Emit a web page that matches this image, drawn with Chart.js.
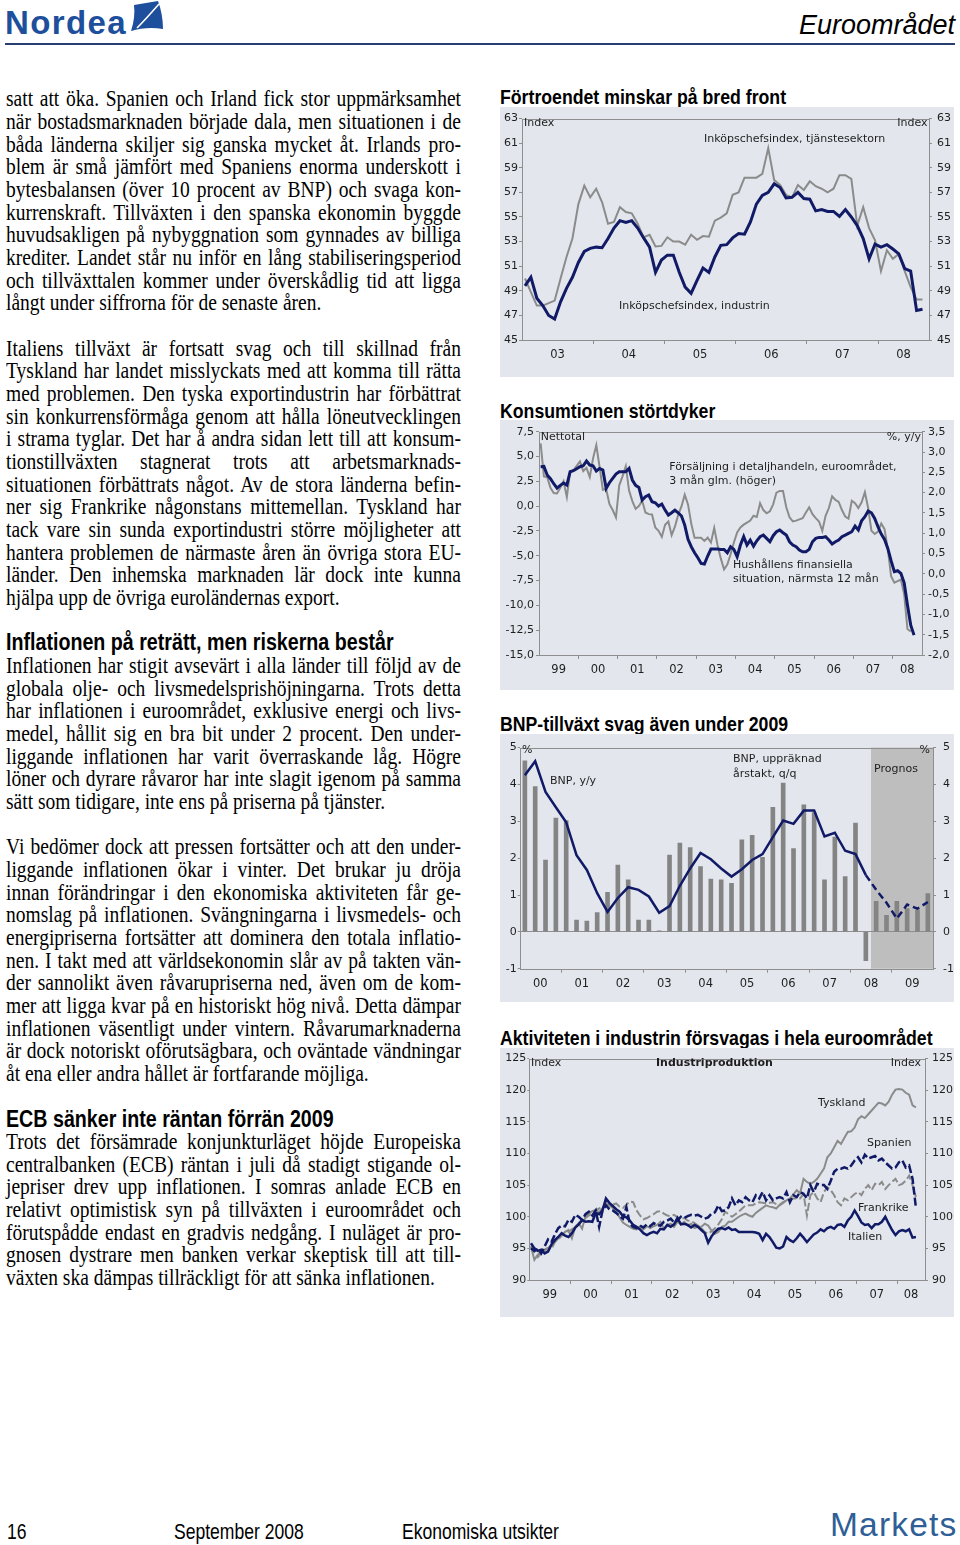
<!DOCTYPE html>
<html lang="sv"><head><meta charset="utf-8">
<title>Euroområdet</title>
<script src="https://cdn.jsdelivr.net/npm/chart.js@4.4.1/dist/chart.umd.min.js"></script>
<style>
html,body{margin:0;padding:0;background:#fff;}
#page{position:relative;width:960px;height:1545px;overflow:hidden;background:#fff;}
.txt{position:absolute;left:6px;width:560px;transform:scaleX(0.8125);transform-origin:0 0;font-family:"Liberation Serif","Times New Roman",serif;font-size:24px;line-height:22.67px;color:#000;}
.txt div{text-align:justify;text-align-last:justify;}
.txt div.e{text-align-last:left;}
.h{position:absolute;left:6px;transform:scaleX(0.8125);transform-origin:0 0;font-family:"Liberation Sans",Arial,sans-serif;font-weight:bold;font-size:24.2px;line-height:22.67px;white-space:nowrap;color:#000;}
.ct{position:absolute;left:500px;transform:scaleX(0.863);transform-origin:0 0;font-family:"Liberation Sans",Arial,sans-serif;font-weight:bold;font-size:20.5px;line-height:24px;white-space:nowrap;color:#000;}
.panel{position:absolute;left:500px;width:454px;background:#e3e7ed;}
.panel canvas{display:block;}
.foot{position:absolute;top:1520px;transform:scaleX(0.82);transform-origin:0 0;font-family:"Liberation Sans",Arial,sans-serif;font-size:21.4px;line-height:24px;white-space:nowrap;color:#000;}
</style></head>
<body><div id="page">

<svg style="position:absolute;left:0;top:0" width="960" height="50">
  <path d="M131,31 C134,22 135,13 134,5 L158,1 C161,9 163,19 163,29 C152,27 141,28 131,31 Z" fill="#1d4f9c"/>
  <path d="M137,28 C145,20 152,12 159,4" stroke="#fff" stroke-width="1.6" fill="none"/>
</svg>
<div style="position:absolute;left:5px;top:6px;font-family:'Liberation Sans',Arial,sans-serif;font-weight:bold;font-size:33px;line-height:33px;letter-spacing:1.4px;color:#1d4f9c;">Nordea</div>
<div style="position:absolute;right:5px;top:12px;font-family:'Liberation Sans',Arial,sans-serif;font-style:italic;font-size:27px;line-height:27px;color:#000;">Euroområdet</div>
<div style="position:absolute;left:5px;top:43px;width:950px;height:2px;background:#263f70;"></div>

<div class="txt" style="top:87.3px">
<div>satt att öka. Spanien och Irland fick stor uppmärksamhet</div>
<div>när bostadsmarknaden började dala, men situationen i de</div>
<div>båda länderna skiljer sig ganska mycket åt. Irlands pro-</div>
<div>blem är små jämfört med Spaniens enorma underskott i</div>
<div>bytesbalansen (över 10 procent av BNP) och svaga kon-</div>
<div>kurrenskraft. Tillväxten i den spanska ekonomin byggde</div>
<div>huvudsakligen på nybyggnation som gynnades av billiga</div>
<div>krediter. Landet står nu inför en lång stabiliseringsperiod</div>
<div>och tillväxttalen kommer under överskådlig tid att ligga</div>
<div class="e">långt under siffrorna för de senaste åren.</div>
</div>

<div class="txt" style="top:336.7px">
<div>Italiens tillväxt är fortsatt svag och till skillnad från</div>
<div>Tyskland har landet misslyckats med att komma till rätta</div>
<div>med problemen. Den tyska exportindustrin har förbättrat</div>
<div>sin konkurrensförmåga genom att hålla löneutvecklingen</div>
<div>i strama tyglar. Det har å andra sidan lett till att konsum-</div>
<div>tionstillväxten stagnerat trots att arbetsmarknads-</div>
<div>situationen förbättrats något. Av de stora länderna befin-</div>
<div>ner sig Frankrike någonstans mittemellan. Tyskland har</div>
<div>tack vare sin sunda exportindustri större möjligheter att</div>
<div>hantera problemen de närmaste åren än övriga stora EU-</div>
<div>länder. Den inhemska marknaden lär dock inte kunna</div>
<div class="e">hjälpa upp de övriga euroländernas export.</div>
</div>

<div class="h" style="top:631.4px">Inflationen på reträtt, men riskerna består</div>
<div class="txt" style="top:654.1px">
<div>Inflationen har stigit avsevärt i alla länder till följd av de</div>
<div>globala olje- och livsmedelsprishöjningarna. Trots detta</div>
<div>har inflationen i euroområdet, exklusive energi och livs-</div>
<div>medel, hållit sig en bra bit under 2 procent. Den under-</div>
<div>liggande inflationen har varit överraskande låg. Högre</div>
<div>löner och dyrare råvaror har inte slagit igenom på samma</div>
<div class="e">sätt som tidigare, inte ens på priserna på tjänster.</div>
</div>

<div class="txt" style="top:835.4px">
<div>Vi bedömer dock att pressen fortsätter och att den under-</div>
<div>liggande inflationen ökar i vinter. Det brukar ju dröja</div>
<div>innan förändringar i den ekonomiska aktiviteten får ge-</div>
<div>nomslag på inflationen. Svängningarna i livsmedels- och</div>
<div>energipriserna fortsätter att dominera den totala inflatio-</div>
<div>nen. I takt med att världsekonomin slår av på takten vän-</div>
<div>der sannolikt även råvarupriserna ned, även om de kom-</div>
<div>mer att ligga kvar på en historiskt hög nivå. Detta dämpar</div>
<div>inflationen väsentligt under vintern. Råvarumarknaderna</div>
<div>är dock notoriskt oförutsägbara, och oväntade vändningar</div>
<div class="e">åt ena eller andra hållet är fortfarande möjliga.</div>
</div>

<div class="h" style="top:1107.5px">ECB sänker inte räntan förrän 2009</div>
<div class="txt" style="top:1130.1px">
<div>Trots det försämrade konjunkturläget höjde Europeiska</div>
<div>centralbanken (ECB) räntan i juli då stadigt stigande ol-</div>
<div>jepriser drev upp inflationen. I somras anlade ECB en</div>
<div>relativt optimistisk syn på tillväxten i euroområdet och</div>
<div>förutspådde endast en gradvis nedgång. I nuläget är pro-</div>
<div>gnosen dystrare men banken verkar skeptisk till att till-</div>
<div class="e">växten ska dämpas tillräckligt för att sänka inflationen.</div>
</div>

<div class="ct" style="top:85.2px">Förtroendet minskar på bred front</div>
<div class="panel" style="top:107px;height:270px"><canvas id="c1" width="454" height="270"></canvas></div>

<div class="ct" style="top:399.2px">Konsumtionen störtdyker</div>
<div class="panel" style="top:420px;height:270px"><canvas id="c2" width="454" height="270"></canvas></div>

<div class="ct" style="top:711.9px">BNP-tillväxt svag även under 2009</div>
<div class="panel" style="top:734px;height:268px"><canvas id="c3" width="454" height="268"></canvas></div>

<div class="ct" style="top:1025.9px">Aktiviteten i industrin försvagas i hela euroområdet</div>
<div class="panel" style="top:1048px;height:269px"><canvas id="c4" width="454" height="269"></canvas></div>

<div class="foot" style="left:7px">16</div>
<div class="foot" style="left:174px">September 2008</div>
<div class="foot" style="left:402px">Ekonomiska utsikter</div>
<div style="position:absolute;left:830px;top:1507.6px;font-family:'Liberation Sans',Arial,sans-serif;font-size:33.5px;line-height:33.5px;letter-spacing:1.2px;color:#2f5f96;">Markets</div>

</div>
<script>
// ---------- Chart 1: Förtroendet minskar på bred front (monthly, Jan 2003 - Aug 2008)
const c1Years = ['03','04','05','06','07','08'];
const c1Industri = [
 49.4, 50.1, 48.4, 47.8, 47.0, 46.7, 48.1, 49.2, 50.1, 51.3, 52.2, 52.45,
 52.55, 52.5, 53.25, 54.1, 54.7, 54.55, 54.7, 54.1, 53.3, 52.55, 50.5, 51.5,
 51.9, 51.9, 50.5, 49.3, 48.8, 49.85, 50.85, 50.5, 51.75, 52.7, 52.75, 53.3,
 53.65, 53.6, 54.6, 56.05, 56.75, 57.0, 57.7, 57.4, 56.55, 56.6, 57.0, 56.5,
 56.45, 55.5, 55.6, 55.45, 55.45, 55.05, 55.6, 55.0, 54.3, 53.25, 51.6, 52.8,
 52.55, 52.75, 52.4, 52.0, 50.8, 50.6, 47.4, 47.5];
const c1Tjanster = [
 50.0, 48.9, 47.8, 47.8, 48.0, 48.2, 50.0, 51.75, 53.25, 56.05, 57.55, 56.6,
 57.3, 56.2, 54.45, 54.6, 55.8, 55.4, 55.3, 54.45, 53.35, 53.55, 52.6, 52.65,
 53.35, 53.0, 53.0, 52.75, 53.55, 53.15, 53.45, 53.4, 54.7, 54.95, 55.3, 56.8,
 57.0, 58.2, 58.2, 58.2, 58.5, 60.6, 58.0, 57.6, 56.8, 56.6, 57.6, 57.2,
 57.9, 57.5, 57.3, 57.0, 57.3, 58.4, 58.4, 58.1, 54.3, 55.8, 54.1, 53.1,
 50.6, 52.3, 51.6, 52.0, 50.6, 49.3, 48.3, 48.3];

// ---------- Chart 2: Konsumtionen störtdyker (monthly, from Jan 1999)
const c2Years = ['99','00','01','02','03','04','05','06','07','08'];
const c2Hushall = [ // Nettotal, vänster axel
 3.97, 4.0, 3.13, 2.76, 2.26, 1.82, 2.09, 2.33, 2.12, 3.47, 3.57, 3.77,
 3.97, 4.07, 4.54, 4.14, 4.07, 3.53, 3.8, 3.63, 1.79, 2.36, 2.8, 3.23,
 3.47, 3.47, 3.47, 3.8, 2.63, 2.09, 1.89, 0.61, 0.95, 1.12, 0.44, 0.34,
 0.0, 0.21, -0.4, -0.9, -0.67, -0.4, -0.67, -1.0, -1.91, -3.35, -4.09, -4.7,
 -5.2, -5.77, -5.84, -5.03, -4.33, -4.33, -4.33, -4.36, -4.36, -4.7, -4.09, -4.36,
 -5.1, -3.92, -3.08, -3.92, -3.42, -4.03, -3.49, -3.08, -2.92, -3.25, -3.59, -2.98,
 -2.58, -2.41, -2.68, -2.92, -3.59, -3.92, -4.09, -4.43, -4.6, -4.6, -4.36, -3.59,
 -3.25, -3.15, -3.15, -3.08, -3.42, -3.82, -3.59, -3.42, -3.08, -2.92, -2.75, -2.58,
 -2.01, -2.41, -1.47, -1.07, -0.5, -0.67, -1.24, -2.08, -2.82, -3.35, -4.26, -5.5,
 -6.61, -6.51, -6.78, -7.72, -9.97, -11.99, -13.0];
const c2Detalj = [ // %, y/y, höger axel
 3.21, 2.4, 2.38, 2.12, 1.99, 1.98, 2.12, 2.28, 1.89, 2.51, 2.55, 2.66,
 2.77, 2.53, 2.61, 2.38, 2.84, 3.17, 2.63, 2.07, 2.09, 1.72, 1.57, 1.39,
 2.18, 2.4, 2.65, 2.05, 1.79, 1.6, 1.67, 1.8, 1.51, 1.47, 1.46, 1.14,
 1.06, 0.91, 1.21, 1.29, 0.95, 1.16, 1.45, 1.66, 1.95, 1.71, 1.23, 0.89,
 0.89, 0.89, 0.81, 0.89, 0.77, 1.13, 0.71, 0.38, 0.11, 0.23, 0.48, 0.77,
 1.02, 1.14, 1.21, 1.26, 1.31, 1.43, 1.4, 1.74, 1.57, 1.49, 1.54, 1.71,
 2.0, 2.04, 2.04, 1.64, 1.39, 1.29, 1.31, 1.34, 1.37, 1.51, 1.64, 1.47,
 1.37, 1.29, 1.06, 1.43, 1.62, 1.91, 1.82, 1.77, 1.57, 1.41, 1.36, 1.8,
 1.74, 1.62, 1.76, 2.01, 1.62, 1.06, 0.98, 1.04, 1.24, 1.1, 0.61, -0.06,
 -0.22, -0.18, -0.14, -0.51, -1.36, -1.42];

// ---------- Chart 3: BNP (quarterly 2000 Q1 - 2009 Q4)
const c3Years = ['00','01','02','03','04','05','06','07','08','09'];
const c3Qoq = [
 4.64, 3.94, 1.95, 3.09,  3.02, 0.32, 0.29, 0.52,  1.07, 1.81, 1.41, 0.32,
 0.32, 0.03, 2.08, 2.41,  2.29, 1.77, 1.43, 1.41,  1.32, 2.5, 2.62, 2.02,
 3.38, 4.04, 2.26, 3.45,  3.24, 1.41, 2.57, 1.5,   2.95, -0.78, 0.83, 0.45,
 0.83, 0.63, 0.6, 1.04];
const c3Yoy = [
 4.25, 4.63, 3.8, 3.38,  2.97, 2.08, 1.68, 1.05,  0.54, 0.92, 1.21, 1.14,
 0.96, 0.52, 0.7, 1.25,  1.72, 2.14, 1.97, 1.72,  1.5, 1.7, 1.95, 2.11,
 2.57, 3.02, 2.93, 3.29,  3.29, 2.59, 2.69, 2.2,   2.11, 1.54, 1.14, 0.79,
 0.36, 0.74, 0.63, 0.81];
const c3PrognosStart = 2008.5;
const c3FirstForecastSegment = 33;

// ---------- Chart 4: Industriproduktion (monthly, Jan 1999 - Jun 2008)
const c4Years = ['99','00','01','02','03','04','05','06','07','08'];
const c4Tyskland = [
 95.2, 93.2, 94.0, 94.5, 94.6, 95.0, 95.6, 96.0, 96.6, 97.1, 97.6, 97.9,
 96.6, 98.4, 99.0, 98.1, 100.1, 100.5, 100.9, 101.1, 100.7, 101.4, 102.2, 101.8,
 101.4, 100.9, 99.9, 99.1, 98.7, 98.4, 98.1, 98.0, 98.5, 98.0, 98.5, 98.2,
 98.5, 98.7, 99.2, 98.1, 98.7, 98.9, 98.4, 99.2, 98.8, 99.2, 98.6, 98.9,
 98.2, 98.4, 98.4, 98.9, 98.6, 97.8, 97.3, 97.6, 98.4, 98.6, 99.2, 99.2,
 99.6, 100.0, 100.3, 100.5, 100.2, 100.0, 100.6, 101.0, 101.4, 101.8, 101.6, 101.5,
 101.3, 101.9, 102.3, 102.6, 102.9, 103.5, 104.2, 103.7, 106.0, 105.5, 105.2, 105.5,
 106.0, 106.8, 107.6, 109.4, 110.0, 111.0, 112.0, 111.5, 112.5, 113.4, 113.5, 114.1,
 115.4, 115.9, 115.6, 116.2, 116.8, 117.4, 118.0, 117.9, 117.6, 118.2, 119.3, 120.1,
 120.2, 120.1, 119.6, 119.3, 117.6, 117.3];
const c4Spanien = [
 95.0, 94.6, 94.9, 94.2, 95.3, 96.4, 96.0, 97.2, 98.2, 98.6, 98.5, 99.5,
 99.2, 100.3, 100.0, 99.5, 100.4, 100.8, 100.2, 101.0, 98.4, 101.0, 101.8, 101.2,
 101.0, 100.6, 100.1, 99.7, 101.5, 98.9, 98.4, 98.2, 98.6, 98.3, 98.8, 98.5,
 99.0, 98.7, 98.6, 99.2, 99.4, 99.7, 99.1, 99.4, 100.0, 99.8, 100.1, 100.3,
 100.2, 100.3, 100.0, 99.7, 99.9, 100.5, 100.7, 101.8, 100.9, 101.0, 101.5, 102.9,
 101.8, 102.6, 102.3, 103.1, 102.6, 102.3, 103.4, 102.9, 103.9, 102.6, 103.4, 102.6,
 102.9, 103.1, 102.9, 103.9, 102.3, 103.4, 103.1, 103.9, 103.6, 102.9, 105.0, 103.9,
 105.2, 105.0, 105.0, 104.4, 105.7, 107.1, 107.6, 107.6, 107.8, 107.6, 108.1, 108.9,
 109.4, 108.6, 109.8, 109.2, 109.4, 109.6, 108.9, 109.2, 108.6, 108.1, 107.6, 107.8,
 108.6, 108.9, 107.8, 108.1, 106.0, 101.4];
const c4Frankrike = [
 95.4, 94.3, 93.6, 94.2, 94.8, 95.1, 94.9, 96.0, 96.4, 97.0, 97.3, 97.6,
 98.0, 98.4, 98.9, 99.3, 99.8, 100.2, 100.5, 101.0, 101.3, 101.5, 101.6, 102.0,
 101.9, 102.1, 101.6, 101.4, 101.9, 102.4, 102.3, 101.0, 100.2, 99.6, 99.8, 100.1,
 100.4, 100.8, 100.9, 100.5, 100.2, 100.1, 100.3, 99.9, 99.7, 99.8, 99.4, 99.3,
 99.0, 98.6, 98.2, 97.6, 97.3, 97.7, 98.2, 98.8, 99.6, 100.8, 100.4, 100.0,
 100.4, 100.8, 101.3, 101.8, 101.8, 101.8, 102.1, 102.3, 102.2, 102.1, 102.2, 102.3,
 102.0, 101.8, 102.2, 102.6, 102.7, 102.9, 102.9, 102.9, 103.6, 100.2, 103.4, 103.9,
 102.9, 102.3, 103.9, 104.7, 104.2, 103.4, 102.3, 101.8, 102.9, 102.6, 103.1, 103.6,
 103.9, 103.4, 104.4, 105.0, 104.2, 105.2, 105.0, 105.5, 104.4, 105.0, 105.5, 106.0,
 105.0, 105.2, 105.7, 106.5, 105.0, 103.1];
const c4Italien = [
 95.8, 95.0, 94.6, 94.8, 94.2, 94.5, 95.6, 96.3, 96.8, 97.4, 97.0, 96.8,
 97.4, 98.3, 98.8, 99.5, 99.2, 99.3, 99.2, 100.6, 100.4, 101.0, 102.9, 102.2,
 101.7, 101.2, 100.8, 100.1, 99.9, 99.4, 98.7, 98.4, 98.0, 97.4, 97.1, 97.4,
 97.6, 97.4, 98.1, 98.0, 98.7, 98.4, 98.8, 99.8, 98.8, 98.9, 98.7, 98.3,
 98.7, 98.4, 97.9, 97.4, 95.9, 96.9, 97.6, 98.1, 98.2, 98.0, 98.3, 97.9,
 98.0, 97.6, 97.6, 97.6, 97.6, 97.6, 97.5, 97.3, 96.3, 97.3, 96.8, 96.0,
 95.1, 95.0, 95.3, 96.8, 96.3, 96.0, 96.6, 97.3, 96.7, 96.0, 96.6, 97.2,
 97.5, 98.0, 97.7, 98.2, 98.4, 98.1, 98.7, 98.8, 98.4, 99.4, 100.0, 101.0,
 100.1, 99.1, 98.7, 98.8, 98.2, 98.8, 98.8, 99.2, 100.0, 98.9, 97.9, 97.1,
 97.7, 97.9, 97.7, 98.0, 96.7, 96.8];

// ---------- shared styling
const NAVY = '#111a66';
const GRAY = '#8b8b8b';
const AXC = '#8e8e8e';
const TXT = '#1e1e1e';
const FONT = "'DejaVu Sans', Verdana, sans-serif";
const NONE = 'rgba(0,0,0,0)';

function pts(arr, start, per) {
  return arr.map((v, i) => ({ x: start + (i + 0.5) / per, y: v }));
}
function comma(v) { return Number(v).toFixed(1).replace('.', ','); }
function plain(v) { return String(v); }

function yearAxis(first, labels, min, max, h) {
  const lab = {};
  return {
    type: 'linear', position: 'bottom', min: min, max: max, offset: false,
    afterBuildTicks(scale) {
      const t = [];
      labels.forEach((l, i) => {
        const y0 = first + i;
        if (y0 > min && y0 < max) t.push({ value: y0 });
        const a = Math.max(y0, min), b = Math.min(y0 + 1, max);
        const mid = (a + b) / 2;
        lab[mid] = l;
        t.push({ value: mid });
      });
      t.sort((p, q) => p.value - q.value);
      scale.ticks = t;
    },
    afterFit(scale) { scale.height = h; },
    ticks: { autoSkip: false, maxRotation: 0, minRotation: 0, padding: 4.5, color: TXT,
             font: { family: FONT, size: 11.5 }, callback: v => (lab[v] !== undefined ? lab[v] : '') },
    grid: { drawOnChartArea: false, drawTicks: true, tickLength: 4, offset: false,
            tickColor: c => (c.tick && Number.isInteger(c.tick.value)) ? AXC : NONE, color: NONE },
    border: { display: false }
  };
}
function yAxis(pos, min, max, step, fmt, width, tl, pad, zeroLine) {
  return {
    type: 'linear', position: pos, min: min, max: max,
    ticks: { stepSize: step, autoSkip: false, color: TXT, font: { family: FONT, size: 11 }, padding: pad, callback: fmt },
    grid: { drawOnChartArea: !!zeroLine, drawTicks: true, tickLength: tl, tickColor: AXC,
            color: c => (zeroLine && c.tick && c.tick.value === 0) ? AXC : NONE },
    border: { display: false },
    afterFit(s) { s.width = width; }
  };
}
const frame = {
  id: 'frame',
  beforeDatasetsDraw(chart) {
    const a = chart.chartArea, ctx = chart.ctx;
    ctx.save();
    ctx.strokeStyle = AXC; ctx.lineWidth = 1;
    ctx.strokeRect(Math.round(a.left) + 0.5, Math.round(a.top) + 0.5,
                   Math.round(a.right - a.left), Math.round(a.bottom - a.top));
    ctx.restore();
  }
};
function notes(items) {
  return {
    id: 'notes',
    afterDraw(chart) {
      const ctx = chart.ctx;
      ctx.save();
      items.forEach(it => {
        ctx.font = (it.b ? 'bold ' : '') + '11px ' + FONT;
        ctx.fillStyle = TXT;
        ctx.textAlign = it.a || 'left';
        ctx.textBaseline = 'middle';
        ctx.fillText(it.t, it.x, it.y);
      });
      ctx.restore();
    }
  };
}
function baseOpts(padTop, scales) {
  return {
    responsive: false, animation: false, events: [],
    layout: { padding: { top: padTop, left: 0, right: 0, bottom: 0 } },
    plugins: { legend: { display: false }, tooltip: { enabled: false } },
    elements: { point: { radius: 0 }, line: { tension: 0 } },
    scales: scales
  };
}

// ---------- Chart 1
new Chart(document.getElementById('c1'), {
  type: 'line',
  data: { datasets: [
    { data: pts(c1Industri, 2003, 12), borderColor: NAVY, borderWidth: 3, order: 1 },
    { data: pts(c1Tjanster, 2003, 12), borderColor: GRAY, borderWidth: 2, order: 2 }
  ] },
  options: baseOpts(10.7, {
    x: yearAxis(2003, c1Years, 2003, 2008.716, 37),
    y: yAxis('left', 45, 63, 2, plain, 22, 3, 1),
    y2: yAxis('right', 45, 63, 2, plain, 25, 3, 5)
  }),
  plugins: [frame, notes([
    { t: 'Index', x: 24, y: 16 },
    { t: 'Index', x: 427.5, y: 16, a: 'right' },
    { t: 'Inköpschefsindex, tjänstesektorn', x: 204, y: 32 },
    { t: 'Inköpschefsindex, industrin', x: 119, y: 199 }
  ])]
});

// ---------- Chart 2
new Chart(document.getElementById('c2'), {
  type: 'line',
  data: { datasets: [
    { data: pts(c2Hushall, 1999, 12), borderColor: NAVY, borderWidth: 3, yAxisID: 'y', order: 1 },
    { data: pts(c2Detalj, 1999, 12), borderColor: GRAY, borderWidth: 2, yAxisID: 'y2', order: 2 }
  ] },
  options: baseOpts(11.7, {
    x: yearAxis(1999, c2Years, 1999, 2008.745, 35),
    y: yAxis('left', -15, 7.5, 2.5, comma, 39, 3, 2),
    y2: yAxis('right', -2, 3.5, 0.5, comma, 32, 3, 3)
  }),
  plugins: [frame, notes([
    { t: 'Nettotal', x: 40.7, y: 17.3 },
    { t: '%, y/y', x: 421, y: 17, a: 'right' },
    { t: 'Försäljning i detaljhandeln, euroområdet,', x: 169.3, y: 46.7 },
    { t: '3 mån glm. (höger)', x: 169.3, y: 61 },
    { t: 'Hushållens finansiella', x: 233, y: 145 },
    { t: 'situation, närmsta 12 mån', x: 233, y: 159 }
  ])]
});

// ---------- Chart 3
const prognos = {
  id: 'prognos',
  beforeDraw(chart) {
    const a = chart.chartArea, ctx = chart.ctx;
    const x0 = chart.scales.x.getPixelForValue(c3PrognosStart);
    ctx.save();
    ctx.fillStyle = '#bebebe';
    ctx.fillRect(x0, a.top, a.right - x0, a.bottom - a.top);
    ctx.restore();
  }
};
new Chart(document.getElementById('c3'), {
  type: 'bar',
  data: { datasets: [
    { type: 'bar', data: pts(c3Qoq, 2000, 4), backgroundColor: '#848484', barThickness: 4, order: 2 },
    { type: 'line', data: pts(c3Yoy, 2000, 4), borderColor: NAVY, borderWidth: 2.5, pointRadius: 0, order: 1,
      segment: { borderDash: c => (c.p0DataIndex >= c3FirstForecastSegment ? [7, 4] : undefined) } }
  ] },
  options: baseOpts(10.7, {
    x: Object.assign(yearAxis(2000, c3Years, 2000, 2010, 33.3), { stacked: false }),
    y: yAxis('left', -1, 5, 1, plain, 19.7, 2, 1, true),
    y2: yAxis('right', -1, 5, 1, plain, 21, 3, 7)
  }),
  plugins: [prognos, frame, notes([
    { t: '%', x: 22, y: 16 },
    { t: '%', x: 430, y: 16, a: 'right' },
    { t: 'BNP, y/y', x: 50, y: 47 },
    { t: 'BNP, uppräknad', x: 233, y: 25 },
    { t: 'årstakt, q/q', x: 233, y: 40 },
    { t: 'Prognos', x: 374, y: 35 }
  ])]
});

// ---------- Chart 4
new Chart(document.getElementById('c4'), {
  type: 'line',
  data: { datasets: [
    { data: pts(c4Tyskland, 1999, 12), borderColor: GRAY, borderWidth: 2, order: 4 },
    { data: pts(c4Frankrike, 1999, 12), borderColor: GRAY, borderWidth: 2, borderDash: [8, 3], order: 3 },
    { data: pts(c4Spanien, 1999, 12), borderColor: NAVY, borderWidth: 2.5, borderDash: [8, 3], order: 2 },
    { data: pts(c4Italien, 1999, 12), borderColor: NAVY, borderWidth: 2.5, order: 1 }
  ] },
  options: baseOpts(9.7, {
    x: yearAxis(1999, c4Years, 1999, 2008.68, 37),
    y: yAxis('left', 90, 125, 5, plain, 29.3, 2, 1),
    y2: yAxis('right', 90, 125, 5, plain, 29, 3, 4)
  }),
  plugins: [frame, notes([
    { t: 'Index', x: 31, y: 15 },
    { t: 'Industriproduktion', x: 156, y: 15, b: true },
    { t: 'Index', x: 421, y: 15, a: 'right' },
    { t: 'Tyskland', x: 318, y: 55 },
    { t: 'Spanien', x: 367, y: 95 },
    { t: 'Frankrike', x: 358, y: 160 },
    { t: 'Italien', x: 348, y: 189 }
  ])]
});
</script>
</body></html>
